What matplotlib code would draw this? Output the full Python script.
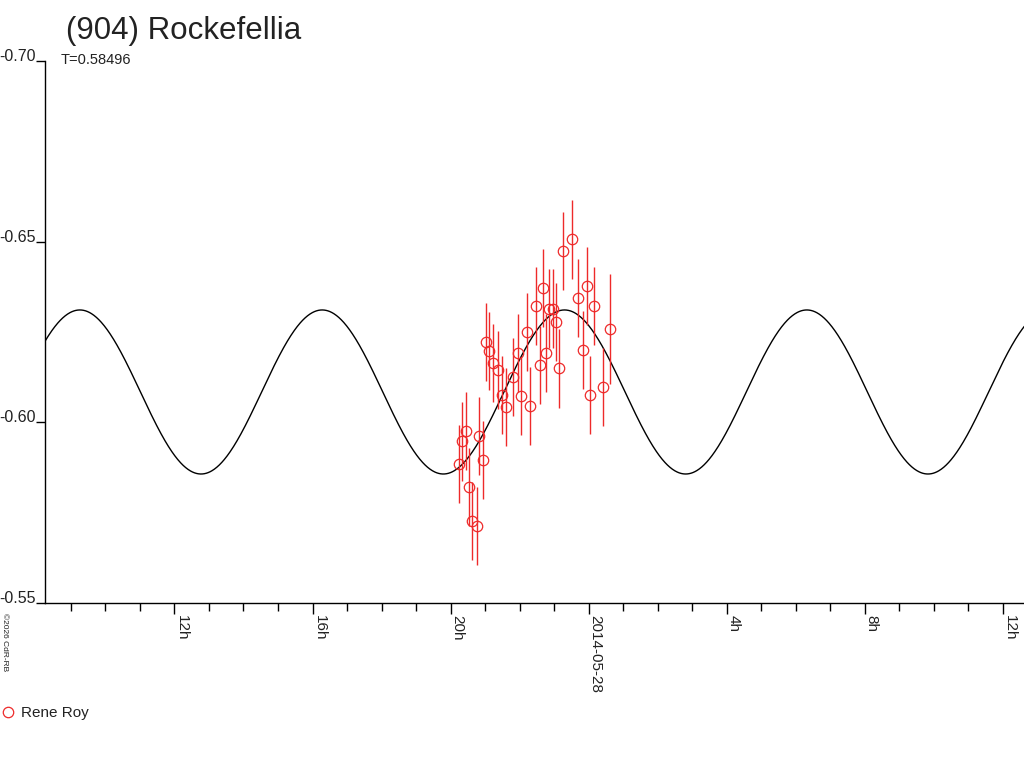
import numpy as np
import matplotlib
matplotlib.use("Agg")
import matplotlib.pyplot as plt
from matplotlib.lines import Line2D

plt.rcParams['font.family'] = ['Liberation Sans', 'DejaVu Sans']

# --- data (hours relative to 2014-05-28 00:00 UT, relative magnitude) ---
obs_hours = [-3.749, -3.662, -3.563, -3.468, -3.381, -3.227, -3.169, -3.053,
             -2.961, -2.880, -2.764, -2.619, -2.512, -2.396, -2.184, -2.039,
             -1.961, -1.787, -1.686, -1.535, -1.419, -1.333, -1.237, -1.141,
             -1.025, -0.939, -0.852, -0.736, -0.475, -0.301, -0.156, -0.041,
             0.046, 0.154, 0.423, 0.617]
obs_mag = [-0.5886, -0.5947, -0.5976, -0.5821, -0.5727, -0.5713, -0.5963, -0.5897,
           -0.6223, -0.6197, -0.6163, -0.6145, -0.6075, -0.6042, -0.6126, -0.6192,
           -0.6073, -0.6251, -0.6046, -0.6322, -0.6158, -0.6371, -0.6193, -0.6315,
           -0.6315, -0.6278, -0.6149, -0.6474, -0.6506, -0.6343, -0.6199, -0.6377,
           -0.6076, -0.6322, -0.6097, -0.6258]
obs_err = [0.0108] * 35 + [0.0152]
observer = "Rene Roy"

# fitted model: two-peak lightcurve with period T (days)
period_days = 0.58496
fit_mean = -0.6084
fit_amp = 0.0227
fit_peak_hour = -14.74

major_hours = [-12, -8, -4, 0, 4, 8, 12]
major_labels = ["12h", "16h", "20h", "2014-05-28", "4h", "8h", "12h"]
y_ticks = [-0.70, -0.65, -0.60, -0.55]
y_labels = ["-0.70", "-0.65", "-0.60", "-0.55"]

x_min, x_max = -15.75, 12.61

red = "#ee2a2a"
txt = "#222222"

fig = plt.figure(figsize=(10.24, 7.68), dpi=100)
ax = fig.add_axes([45 / 1024, 1 - 603 / 768, (1024 - 45) / 1024, (603 - 61) / 768])

# model curve
half_period_h = period_days * 24 / 2
t = np.linspace(x_min, x_max, 2000)
model = fit_mean - fit_amp * np.cos(2 * np.pi * (t - fit_peak_hour) / half_period_h)
ax.plot(t, model, color="black", lw=1.0, zorder=2)

# observations
ax.errorbar(obs_hours, obs_mag, yerr=obs_err, fmt="o", mfc="none", mec=red,
            ecolor=red, elinewidth=1.0, capsize=0, ms=7.5, mew=0.9, zorder=3)

ax.set_xlim(x_min, x_max)
ax.set_ylim(-0.55, -0.70)

for s in ("top", "right"):
    ax.spines[s].set_visible(False)
for s in ("left", "bottom"):
    ax.spines[s].set_linewidth(1.0)
    ax.spines[s].set_color("black")

ax.set_xticks(major_hours)
ax.set_xticklabels(major_labels)
ax.set_xticks(np.arange(-15, 13, 1), minor=True)
ax.tick_params(axis="x", which="major", direction="out", length=8, width=1,
               pad=0.5, labelsize=11, labelcolor=txt)
ax.tick_params(axis="x", which="minor", direction="out", length=5.5, width=1)
for lbl in ax.get_xticklabels():
    lbl.set_rotation(270)
    lbl.set_ha("left")
    lbl.set_va("top")

ax.set_yticks(y_ticks)
ax.set_yticklabels(y_labels)
ax.tick_params(axis="y", direction="out", length=6.5, width=1, pad=0,
               labelsize=11.5, labelcolor=txt)
for lbl in ax.get_yticklabels():
    lbl.set_va("baseline")

# titles
fig.text(66 / 1024, 1 - 39.5 / 768, "(904) Rockefellia", fontsize=22.5,
         color=txt, ha="left", va="baseline")
fig.text(61 / 1024, 1 - 63.5 / 768, f"T={period_days}", fontsize=10.5,
         color=txt, ha="left", va="baseline")

# copyright
fig.text(1 / 1024, 1 - 613 / 768, "\u00a92026 CdR-RB", fontsize=6, rotation=270,
         color=txt, ha="left", va="top")

# legend
proxy = Line2D([], [], ls="none", marker="o", mfc="none", mec=red, ms=7.5, mew=0.9)
fig.legend(handles=[proxy], labels=[observer], loc="center left",
           bbox_to_anchor=(0.0, 1 - 713 / 768), frameon=False, fontsize=11,
           handlelength=0.9, handletextpad=0.35, borderpad=0.1, borderaxespad=0,
           labelcolor=txt)

fig.savefig("out.png", dpi=100)
